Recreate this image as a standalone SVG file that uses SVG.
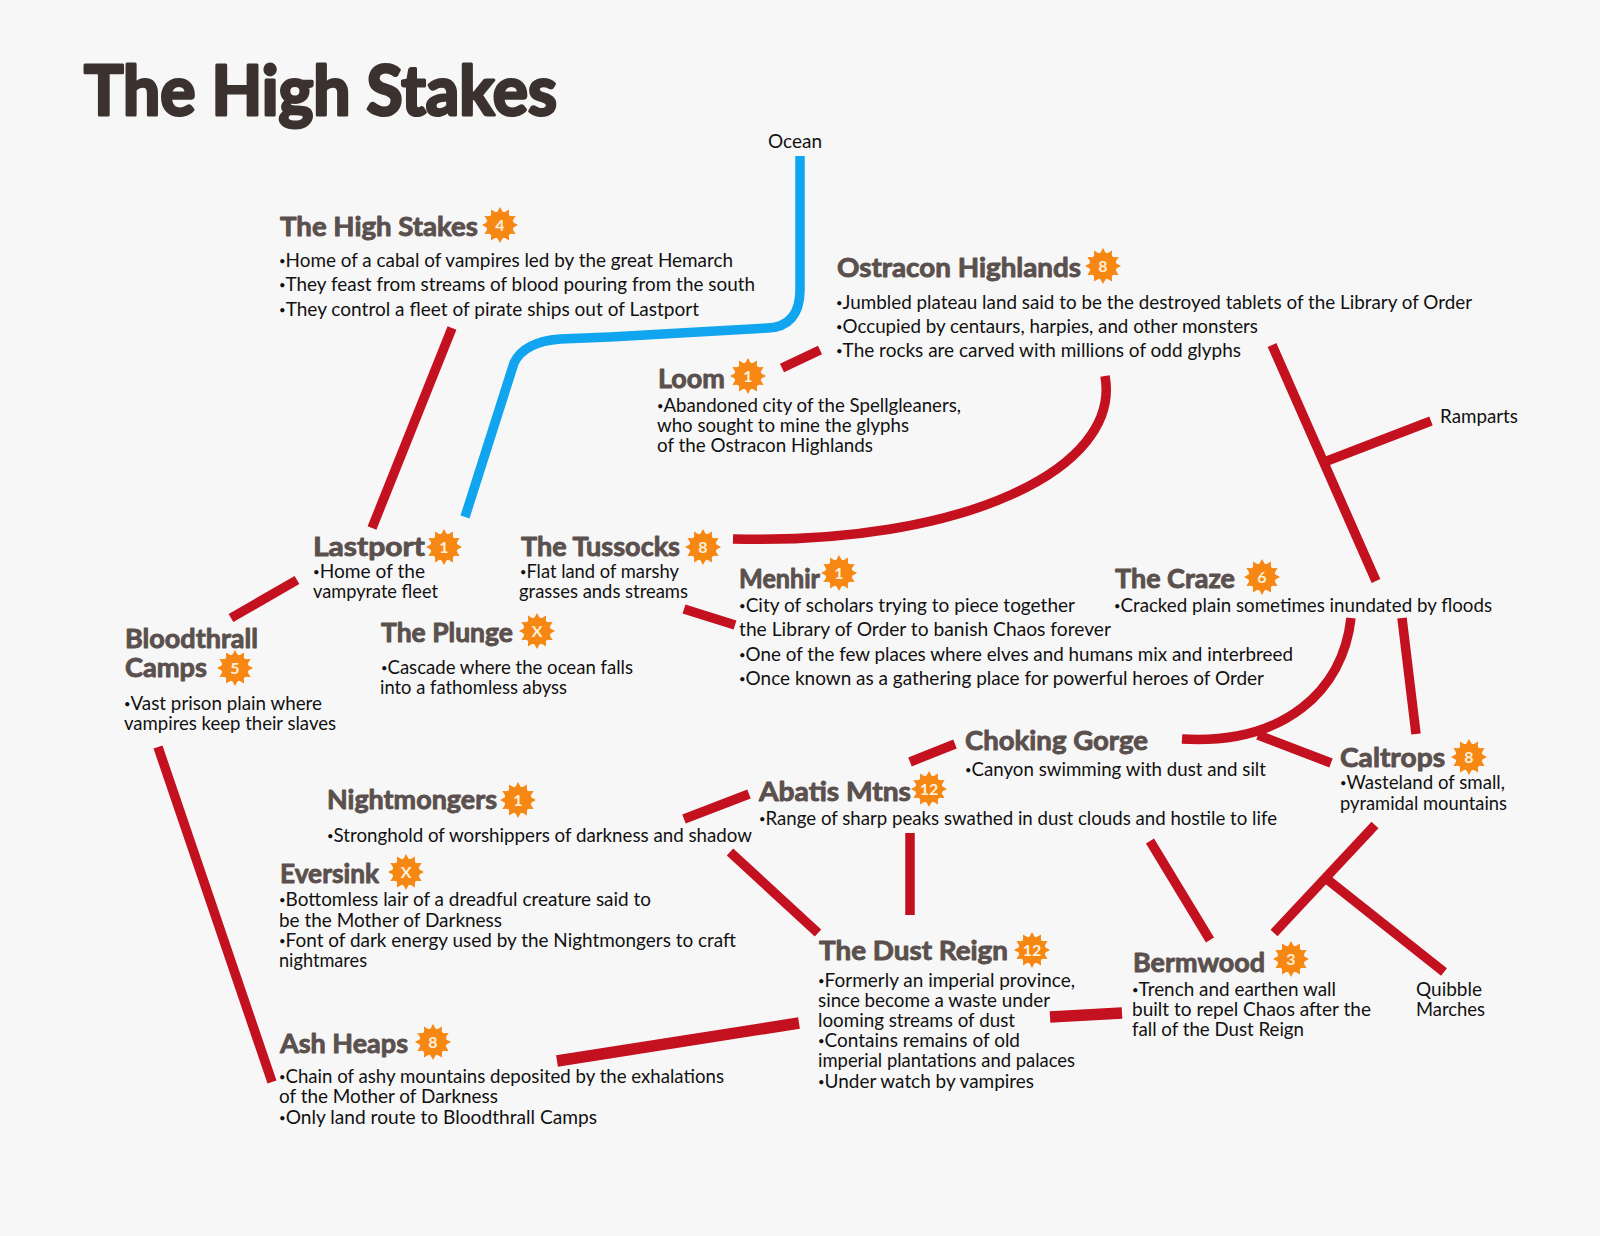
<svg xmlns="http://www.w3.org/2000/svg" width="1600" height="1236" viewBox="0 0 1600 1236">
<style>
text{font-family:"Lato","Open Sans","Liberation Sans",sans-serif}
.t{font-size:20px;fill:#111}
.d{font-size:12px}
.l{font-size:19px;fill:#111}
.h{font-size:27.5px;font-weight:700;fill:#5a504d;stroke:#5a504d;stroke-width:.9px;stroke-linejoin:round}
.n{font-size:16px;font-weight:700;fill:#fdf0dc;text-anchor:middle}
.r{fill:none;stroke:#c4111f;stroke-width:9.5}
.w{fill:none;stroke:#c4111f;stroke-width:11.5}
.b{fill:none;stroke:#10a5ee;stroke-width:9.5}
</style>
<defs><g id="sun" fill="#f68712"><circle r="13.5"/><polygon points="18,0 12.07,3.24 15.59,9 8.84,8.84 9,15.59 3.24,12.07 0,18 -3.24,12.07 -9,15.59 -8.84,8.84 -15.59,9 -12.07,3.24 -18,0 -12.07,-3.24 -15.59,-9 -8.84,-8.84 -9,-15.59 -3.24,-12.07 0,-18 3.24,-12.07 9,-15.59 8.84,-8.84 15.59,-9 12.07,-3.24"/></g></defs>
<rect width="1600" height="1236" fill="#f8f7f7"/>
<g id="connectors">
<path class="b" d="M800,156V290C800,315 788,327 768,328L610,337L560,339C535,341 520,350 514,363L465,517"/>
<path class="r" d="M452,328L372,528M297,580L231,618M158,747L272,1082M820,350L782,368M1105,376C1122,470 960,545 733,539M1272,345L1376,581M1431,421L1327,461M1402,618L1416,734M1351,618C1343,690 1285,745 1182,739M1258,735L1331,763M955,744L910,762M749,794L684,819M730,852L818,933M910,833V915M1150,841L1210,940M1375,825L1274,933M1328,880L1444,972M684,609L735,625"/>
<path class="w" d="M1122,1013L1050,1017M799,1023L557,1061"/>
</g>
<g id="title"><text x="84" y="115" font-size="68" font-weight="700" fill="#3b3230" stroke="#3b3230" stroke-width="3" stroke-linejoin="round" textLength="473" lengthAdjust="spacingAndGlyphs">The High Stakes</text></g>
<g id="ocean"><text class="l" x="768" y="148" textLength="54" lengthAdjust="spacingAndGlyphs">Ocean</text></g>
<g id="ramparts"><text class="l" x="1440" y="423" textLength="78" lengthAdjust="spacingAndGlyphs">Ramparts</text></g>
<g id="quibble-marches"><text class="l" x="1416" y="996" textLength="66" lengthAdjust="spacingAndGlyphs">Quibble</text><text class="l" x="1416" y="1016" textLength="69" lengthAdjust="spacingAndGlyphs">Marches</text></g>
<g id="high-stakes"><text class="h" x="280" y="236" textLength="198" lengthAdjust="spacingAndGlyphs">The High Stakes</text><use href="#sun" x="500" y="225"/><text class="n" x="500" y="231">4</text>
<text class="t" x="279" y="267" textLength="454" lengthAdjust="spacingAndGlyphs"><tspan class="d" dy="-2">•</tspan><tspan dy="2">Home of a cabal of vampires led by the great Hemarch</tspan></text>
<text class="t" x="279" y="291" textLength="476" lengthAdjust="spacingAndGlyphs"><tspan class="d" dy="-2">•</tspan><tspan dy="2">They feast from streams of blood pouring from the south</tspan></text>
<text class="t" x="279" y="316" textLength="420" lengthAdjust="spacingAndGlyphs"><tspan class="d" dy="-2">•</tspan><tspan dy="2">They control a fleet of pirate ships out of Lastport</tspan></text></g>
<g id="ostracon"><text class="h" x="837" y="277" textLength="244" lengthAdjust="spacingAndGlyphs">Ostracon Highlands</text><use href="#sun" x="1103" y="266"/><text class="n" x="1103" y="272">8</text>
<text class="t" x="836" y="309" textLength="636" lengthAdjust="spacingAndGlyphs"><tspan class="d" dy="-2">•</tspan><tspan dy="2">Jumbled plateau land said to be the destroyed tablets of the Library of Order</tspan></text>
<text class="t" x="836" y="333" textLength="422" lengthAdjust="spacingAndGlyphs"><tspan class="d" dy="-2">•</tspan><tspan dy="2">Occupied by centaurs, harpies, and other monsters</tspan></text>
<text class="t" x="836" y="357" textLength="405" lengthAdjust="spacingAndGlyphs"><tspan class="d" dy="-2">•</tspan><tspan dy="2">The rocks are carved with millions of odd glyphs</tspan></text></g>
<g id="loom"><text class="h" x="658" y="388" textLength="67" lengthAdjust="spacingAndGlyphs">Loom</text><use href="#sun" x="748" y="376"/><text class="n" x="748" y="382">1</text>
<text class="t" x="657" y="412" textLength="304" lengthAdjust="spacingAndGlyphs"><tspan class="d" dy="-2">•</tspan><tspan dy="2">Abandoned city of the Spellgleaners,</tspan></text>
<text class="t" x="657" y="432" textLength="252" lengthAdjust="spacingAndGlyphs">who sought to mine the glyphs</text>
<text class="t" x="657" y="452" textLength="216" lengthAdjust="spacingAndGlyphs">of the Ostracon Highlands</text></g>
<g id="lastport"><text class="h" x="313" y="556" textLength="112" lengthAdjust="spacingAndGlyphs">Lastport</text><use href="#sun" x="444" y="547"/><text class="n" x="444" y="553">1</text>
<text class="t" x="313" y="578" textLength="112" lengthAdjust="spacingAndGlyphs"><tspan class="d" dy="-2">•</tspan><tspan dy="2">Home of the</tspan></text>
<text class="t" x="313" y="598" textLength="125" lengthAdjust="spacingAndGlyphs">vampyrate fleet</text></g>
<g id="tussocks"><text class="h" x="521" y="556" textLength="159" lengthAdjust="spacingAndGlyphs">The Tussocks</text><use href="#sun" x="703" y="547"/><text class="n" x="703" y="553">8</text>
<text class="t" x="520" y="578" textLength="159" lengthAdjust="spacingAndGlyphs"><tspan class="d" dy="-2">•</tspan><tspan dy="2">Flat land of marshy</tspan></text>
<text class="t" x="519" y="598" textLength="169" lengthAdjust="spacingAndGlyphs">grasses ands streams</text></g>
<g id="plunge"><text class="h" x="381" y="642" textLength="132" lengthAdjust="spacingAndGlyphs">The Plunge</text><use href="#sun" x="537" y="631"/><text class="n" x="537" y="637">X</text>
<text class="t" x="381" y="674" textLength="252" lengthAdjust="spacingAndGlyphs"><tspan class="d" dy="-2">•</tspan><tspan dy="2">Cascade where the ocean falls</tspan></text>
<text class="t" x="380" y="694" textLength="187" lengthAdjust="spacingAndGlyphs">into a fathomless abyss</text></g>
<g id="menhir"><text class="h" x="739" y="588" textLength="81" lengthAdjust="spacingAndGlyphs">Menhir</text><use href="#sun" x="839" y="573"/><text class="n" x="839" y="579">1</text>
<text class="t" x="739" y="612" textLength="336" lengthAdjust="spacingAndGlyphs"><tspan class="d" dy="-2">•</tspan><tspan dy="2">City of scholars trying to piece together</tspan></text>
<text class="t" x="739" y="636" textLength="372" lengthAdjust="spacingAndGlyphs">the Library of Order to banish Chaos forever</text>
<text class="t" x="739" y="661" textLength="554" lengthAdjust="spacingAndGlyphs"><tspan class="d" dy="-2">•</tspan><tspan dy="2">One of the few places where elves and humans mix and interbreed</tspan></text>
<text class="t" x="739" y="685" textLength="525" lengthAdjust="spacingAndGlyphs"><tspan class="d" dy="-2">•</tspan><tspan dy="2">Once known as a gathering place for powerful heroes of Order</tspan></text></g>
<g id="craze"><text class="h" x="1115" y="588" textLength="120" lengthAdjust="spacingAndGlyphs">The Craze</text><use href="#sun" x="1262" y="577"/><text class="n" x="1262" y="583">6</text>
<text class="t" x="1114" y="612" textLength="378" lengthAdjust="spacingAndGlyphs"><tspan class="d" dy="-2">•</tspan><tspan dy="2">Cracked plain sometimes inundated by floods</tspan></text></g>
<g id="bloodthrall"><text class="h" x="125" y="648" textLength="133" lengthAdjust="spacingAndGlyphs">Bloodthrall</text><text class="h" x="125" y="677" textLength="82" lengthAdjust="spacingAndGlyphs">Camps</text><use href="#sun" x="235" y="668"/><text class="n" x="235" y="674">5</text>
<text class="t" x="124" y="710" textLength="198" lengthAdjust="spacingAndGlyphs"><tspan class="d" dy="-2">•</tspan><tspan dy="2">Vast prison plain where</tspan></text>
<text class="t" x="124" y="730" textLength="212" lengthAdjust="spacingAndGlyphs">vampires keep their slaves</text></g>
<g id="choking-gorge"><text class="h" x="965" y="750" textLength="183" lengthAdjust="spacingAndGlyphs">Choking Gorge</text>
<text class="t" x="965" y="776" textLength="301" lengthAdjust="spacingAndGlyphs"><tspan class="d" dy="-2">•</tspan><tspan dy="2">Canyon swimming with dust and silt</tspan></text></g>
<g id="caltrops"><text class="h" x="1340" y="767" textLength="105" lengthAdjust="spacingAndGlyphs">Caltrops</text><use href="#sun" x="1469" y="757"/><text class="n" x="1469" y="763">8</text>
<text class="t" x="1340" y="789" textLength="165" lengthAdjust="spacingAndGlyphs"><tspan class="d" dy="-2">•</tspan><tspan dy="2">Wasteland of small,</tspan></text>
<text class="t" x="1340" y="810" textLength="167" lengthAdjust="spacingAndGlyphs">pyramidal mountains</text></g>
<g id="abatis"><text class="h" x="759" y="801" textLength="152" lengthAdjust="spacingAndGlyphs">Abatis Mtns</text><use href="#sun" x="929" y="789"/><text class="n" x="929" y="795">12</text>
<text class="t" x="759" y="825" textLength="518" lengthAdjust="spacingAndGlyphs"><tspan class="d" dy="-2">•</tspan><tspan dy="2">Range of sharp peaks swathed in dust clouds and hostile to life</tspan></text></g>
<g id="nightmongers"><text class="h" x="327" y="809" textLength="170" lengthAdjust="spacingAndGlyphs">Nightmongers</text><use href="#sun" x="518" y="800"/><text class="n" x="518" y="806">1</text>
<text class="t" x="327" y="842" textLength="425" lengthAdjust="spacingAndGlyphs"><tspan class="d" dy="-2">•</tspan><tspan dy="2">Stronghold of worshippers of darkness and shadow</tspan></text></g>
<g id="eversink"><text class="h" x="280" y="883" textLength="99" lengthAdjust="spacingAndGlyphs">Eversink</text><use href="#sun" x="406" y="872"/><text class="n" x="406" y="878">X</text>
<text class="t" x="279" y="906" textLength="372" lengthAdjust="spacingAndGlyphs"><tspan class="d" dy="-2">•</tspan><tspan dy="2">Bottomless lair of a dreadful creature said to</tspan></text>
<text class="t" x="279" y="927" textLength="223" lengthAdjust="spacingAndGlyphs">be the Mother of Darkness</text>
<text class="t" x="279" y="947" textLength="457" lengthAdjust="spacingAndGlyphs"><tspan class="d" dy="-2">•</tspan><tspan dy="2">Font of dark energy used by the Nightmongers to craft</tspan></text>
<text class="t" x="279" y="967" textLength="88" lengthAdjust="spacingAndGlyphs">nightmares</text></g>
<g id="dust-reign"><text class="h" x="819" y="960" textLength="189" lengthAdjust="spacingAndGlyphs">The Dust Reign</text><use href="#sun" x="1032" y="950"/><text class="n" x="1032" y="956">12</text>
<text class="t" x="818" y="987" textLength="257" lengthAdjust="spacingAndGlyphs"><tspan class="d" dy="-2">•</tspan><tspan dy="2">Formerly an imperial province,</tspan></text>
<text class="t" x="818" y="1007" textLength="232" lengthAdjust="spacingAndGlyphs">since become a waste under</text>
<text class="t" x="818" y="1027" textLength="197" lengthAdjust="spacingAndGlyphs">looming streams of dust</text>
<text class="t" x="818" y="1047" textLength="202" lengthAdjust="spacingAndGlyphs"><tspan class="d" dy="-2">•</tspan><tspan dy="2">Contains remains of old</tspan></text>
<text class="t" x="818" y="1067" textLength="257" lengthAdjust="spacingAndGlyphs">imperial plantations and palaces</text>
<text class="t" x="818" y="1088" textLength="216" lengthAdjust="spacingAndGlyphs"><tspan class="d" dy="-2">•</tspan><tspan dy="2">Under watch by vampires</tspan></text></g>
<g id="bermwood"><text class="h" x="1133" y="972" textLength="132" lengthAdjust="spacingAndGlyphs">Bermwood</text><use href="#sun" x="1291" y="959"/><text class="n" x="1291" y="965">3</text>
<text class="t" x="1132" y="996" textLength="204" lengthAdjust="spacingAndGlyphs"><tspan class="d" dy="-2">•</tspan><tspan dy="2">Trench and earthen wall</tspan></text>
<text class="t" x="1132" y="1016" textLength="239" lengthAdjust="spacingAndGlyphs">built to repel Chaos after the</text>
<text class="t" x="1132" y="1036" textLength="172" lengthAdjust="spacingAndGlyphs">fall of the Dust Reign</text></g>
<g id="ash-heaps"><text class="h" x="280" y="1053" textLength="128" lengthAdjust="spacingAndGlyphs">Ash Heaps</text><use href="#sun" x="433" y="1042"/><text class="n" x="433" y="1048">8</text>
<text class="t" x="279" y="1083" textLength="445" lengthAdjust="spacingAndGlyphs"><tspan class="d" dy="-2">•</tspan><tspan dy="2">Chain of ashy mountains deposited by the exhalations</tspan></text>
<text class="t" x="279" y="1103" textLength="219" lengthAdjust="spacingAndGlyphs">of the Mother of Darkness</text>
<text class="t" x="279" y="1124" textLength="318" lengthAdjust="spacingAndGlyphs"><tspan class="d" dy="-2">•</tspan><tspan dy="2">Only land route to Bloodthrall Camps</tspan></text></g>
</svg>
